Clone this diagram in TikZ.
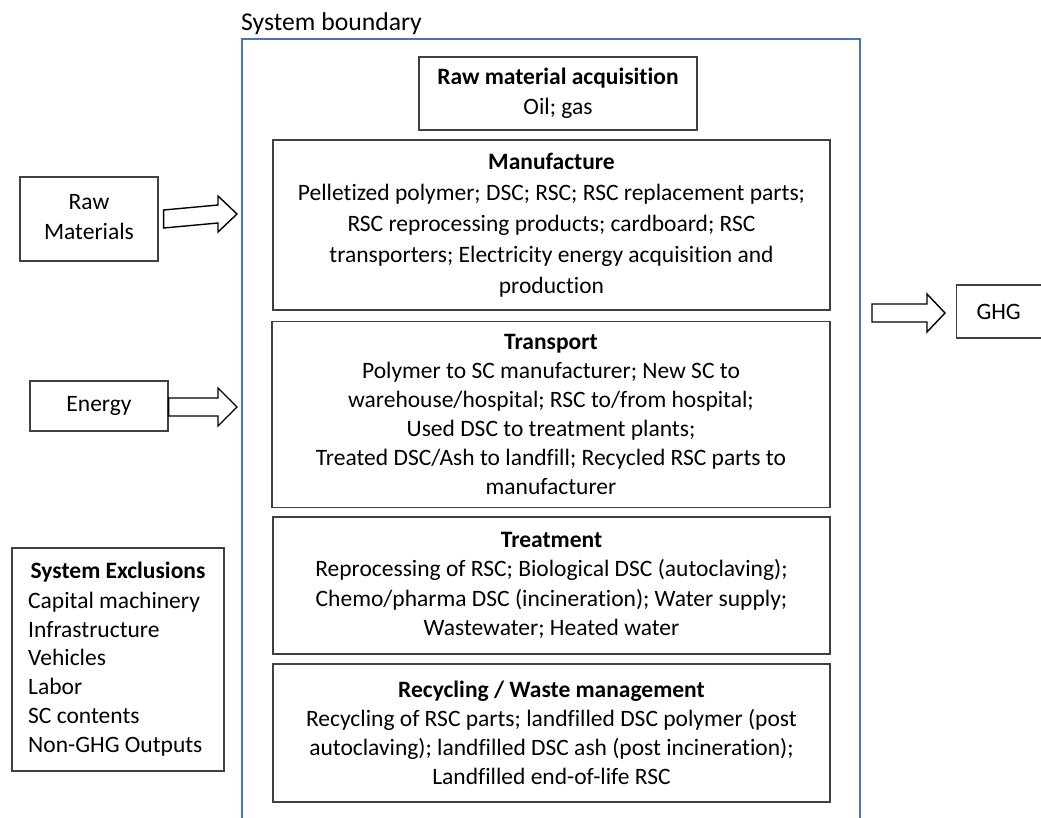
\documentclass[tikz,border=0pt]{standalone}
\usepackage{fontspec}
\setmainfont{Carlito}[Ligatures=NoCommon]
\usetikzlibrary{calc}
\definecolor{bound}{HTML}{4472C4}
\definecolor{boxline}{HTML}{404040}
\begin{document}
\begin{tikzpicture}[x=1pt,y=-1pt,
  box/.style={draw=boxline, line width=1.3pt, fill=white, align=center, inner sep=0pt},
  lbl/.style={inner sep=0pt, align=center},
  blk/.style={draw=black, line width=1.4pt, fill=white, line join=miter},
  f29/.style={font=\fontsize{23.5}{29}\selectfont},
  f295/.style={font=\fontsize{23.5}{29.5}\selectfont},
  f31/.style={font=\fontsize{23.5}{31}\selectfont},
  f30/.style={font=\fontsize{23.5}{30}\selectfont}]
\useasboundingbox (0,0) rectangle (1041,818);
% system boundary
\node[lbl, font=\fontsize{25.7}{30}\selectfont, anchor=west] (sbl) at (241,24) {System boundary};
\coordinate (b1) at (242,818);
\coordinate (b2) at (242,39);
\coordinate (b3) at (860,39);
\coordinate (b4) at (860,818);
\draw[bound, line width=1.8pt] (b1) -- (b2) -- (b3) -- (b4);
% inner boxes
\node[box, f30, minimum width=278pt, minimum height=73pt] (acq) at (558,93.5)
  {\textbf{Raw material acquisition}\\Oil; gas};
\node[box, f31, minimum width=557pt, minimum height=170pt] (manu) at (551.5,225)
  {\textbf{Manufacture}\\Pelletized polymer; DSC; RSC; RSC replacement parts;\\RSC reprocessing products; cardboard; RSC\\transporters; Electricity energy acquisition and\\production};
\node[box, f29, minimum width=558pt, minimum height=186pt] (trans) at (551,414.5)
  {\textbf{Transport}\\Polymer to SC manufacturer; New SC to\\warehouse/hospital; RSC to/from hospital;\\Used DSC to treatment plants;\\Treated DSC/Ash to landfill; Recycled RSC parts to\\manufacturer};
\node[box, f295, minimum width=557pt, minimum height=137pt] (treat) at (551.5,585.5)
  {\textbf{Treatment}\\Reprocessing of RSC; Biological DSC (autoclaving);\\Chemo/pharma DSC (incineration); Water supply;\\Wastewater; Heated water};
\node[box, f29, minimum width=557pt, minimum height=138pt] (recy) at (551.5,733)
  {\textbf{Recycling / Waste management}\\Recycling of RSC parts; landfilled DSC polymer (post\\autoclaving); landfilled DSC ash (post incineration);\\Landfilled end-of-life RSC};
% outside boxes
\node[box, f30, minimum width=138pt, minimum height=84pt] (rawm) at (89,219) {Raw\\Materials\vspace*{4pt}};
\node[box, f30, minimum width=138pt, minimum height=50pt] (energy) at (99,406) {Energy};
\node[box, f30, minimum width=90pt, minimum height=53pt, anchor=west] (ghg) at (956,311.5) {\hspace*{-6pt}GHG};
\node[box, minimum width=212pt, minimum height=223pt] (excl) at (118,659.5) {};
\node[lbl, f29] (exclt) at (118,572) {\textbf{System Exclusions}};
\node[lbl, font=\fontsize{23.5}{28.8}\selectfont, align=left, anchor=west] (excll) at (28,674)
  {Capital machinery\\Infrastructure\\Vehicles\\Labor\\SC contents\\Non-GHG Outputs};
% block arrows
\draw[blk] ($(rawm.east)+(5,-9)$) -- (218,205) -- (218,196) -- (237,214) -- (218,232) -- (218,223) -- ($(rawm.east)+(5,9)$) -- cycle;
\draw[blk] ($(energy.east)+(0,-8)$) -- (218,398) -- (218,388) -- (237,407) -- (218,426) -- (218,416) -- ($(energy.east)+(0,10)$) -- cycle;
\draw[blk] (872,304) -- (927,304) -- (927,294) -- ($(ghg.west)+(-11,1.5)$) -- (927,332) -- (927,322) -- (872,322) -- cycle;
\end{tikzpicture}
\end{document}
